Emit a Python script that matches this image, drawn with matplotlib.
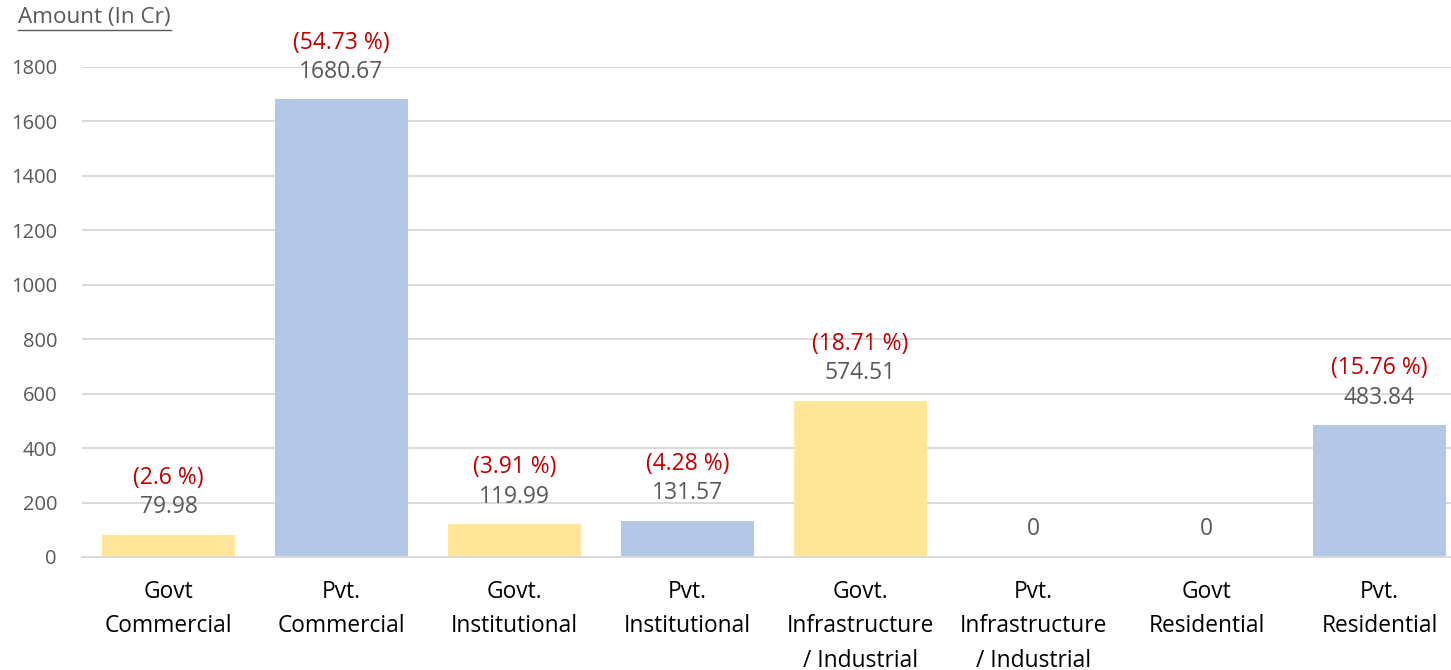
import matplotlib
matplotlib.use("Agg")
import matplotlib.pyplot as plt

categories = ["Govt\nCommercial", "Pvt.\nCommercial", "Govt.\nInstitutional", "Pvt.\nInstitutional",
              "Govt.\nInfrastructure\n/ Industrial", "Pvt.\nInfrastructure\n/ Industrial",
              "Govt\nResidential", "Pvt.\nResidential"]
values = [79.98, 1680.67, 119.99, 131.57, 574.51, 0, 0, 483.84]
value_labels = ["79.98", "1680.67", "119.99", "131.57", "574.51", "0", "0", "483.84"]
pct_labels = ["(2.6 %)", "(54.73 %)", "(3.91 %)", "(4.28 %)", "(18.71 %)", "", "", "(15.76 %)"]
bar_colors = ["#FFE699", "#B4C7E7", "#FFE699", "#B4C7E7", "#FFE699", "#B4C7E7", "#FFE699", "#B4C7E7"]
yticks = [0, 200, 400, 600, 800, 1000, 1200, 1400, 1600, 1800]

plt.rcParams['font.family'] = ['Open Sans', 'DejaVu Sans']

W, H = 1451, 670
fig = plt.figure(figsize=(W/100, H/100), dpi=100)
ax = fig.add_axes([82/W, 1-557/H, 1384/W, (557-67)/H])

x = list(range(len(categories)))
ax.bar(x, values, width=0.77, color=bar_colors, zorder=2)
ax.set_xlim(-0.5, len(categories)-0.5)
ax.set_ylim(0, 1800)
ax.set_yticks(yticks)
ax.set_yticklabels([str(t) for t in yticks], fontsize=14.5, color="#595959")
ax.set_xticks(x)
ax.set_xticklabels(categories, fontsize=16.4, color="#000000", linespacing=1.58)
ax.tick_params(axis='y', length=0, pad=18)
ax.tick_params(axis='x', length=0, pad=16.5)
ax.grid(axis='y', color="#D9D9D9", linewidth=1.4, zorder=0)
for s in ["top", "right", "left"]:
    ax.spines[s].set_visible(False)
ax.spines["bottom"].set_color("#D9D9D9")
ax.spines["bottom"].set_linewidth(1.4)

for xi, v, vl, pl in zip(x, values, value_labels, pct_labels):
    ax.annotate(vl, (xi, v), xytext=(0, 20), textcoords="offset points", ha="center", va="center",
                fontsize=16.5, color="#595959", annotation_clip=False)
    if pl:
        ax.annotate(pl, (xi, v), xytext=(0, 41), textcoords="offset points", ha="center", va="center",
                    fontsize=16.5, color="#C00000", annotation_clip=False)

title = fig.text(18/W, 1-18/H, "Amount (In Cr)", fontsize=16.2, color="#595959", ha="left", va="center")
fig.canvas.draw()
bb = title.get_window_extent()
fig.add_artist(plt.Line2D([bb.x0/W, bb.x1/W], [(bb.y0-1)/H, (bb.y0-1)/H],
                          color="#595959", linewidth=1.0, transform=fig.transFigure))

fig.savefig("out.png", dpi=100)
